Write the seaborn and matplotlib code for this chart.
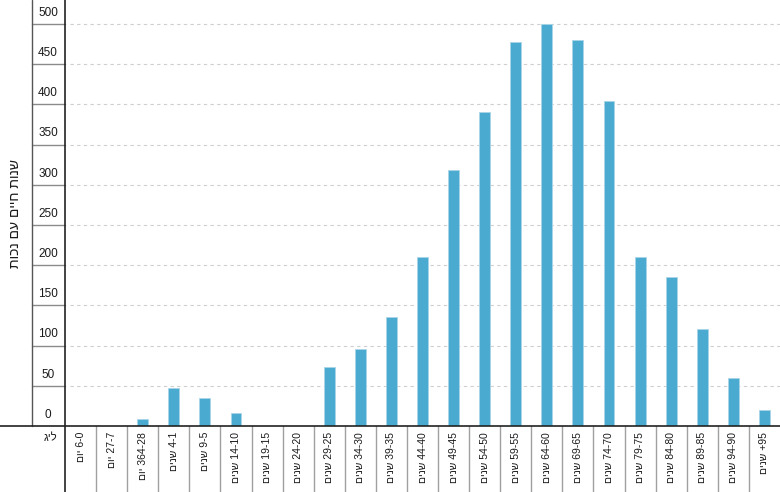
# coding: utf-8
"""
Histogramme des années de vie avec incapacité par tranche d'âge (libellés en hébreu)
"""
import matplotlib
matplotlib.use('Agg')
from matplotlib import pyplot as plt
from matplotlib.transforms import blended_transform_factory
from matplotlib.lines import Line2D
import pandas as pd
import seaborn as sns

# Données
AGE_RANGES = ['6-0', '27-7', '364-28', '4-1', '9-5', '14-10', '19-15', '24-20',
              '29-25', '34-30', '39-35', '44-40', '49-45', '54-50', '59-55',
              '64-60', '69-65', '74-70', '79-75', '84-80', '89-85', '94-90', '+95']
UNITS = ['יום'] * 3 + ['שנים'] * 20
VALUES = [0, 0, 9, 47, 35, 16, 0, 0, 73, 96, 136, 210, 318, 391, 478,
          500, 480, 404, 210, 185, 121, 60, 20]
Y_TICKS = list(range(0, 501, 50))
Y_LABEL = 'שנות חיים עם נכות'
X_HEADER = 'גיל'

BAR_COLOR = '#4aaad0'
W, H = 780, 492


def rtl(s):
    # matplotlib ne gère pas le bidi : on inverse l'ordre des caractères hébreux
    return s[::-1]


sns.set_style('white')
plt.rcParams['font.family'] = ['Liberation Sans', 'DejaVu Sans']

df = pd.DataFrame({'age': AGE_RANGES, 'value': VALUES})
df['label'] = [rtl(u) + ' ' + a for a, u in zip(AGE_RANGES, UNITS)]

fig = plt.figure(figsize=(W / 100, H / 100), dpi=100)
ax = fig.add_axes([65 / W, 66 / H, (W - 65) / W, 426 / H])

sns.barplot(data=df, x='label', y='value', color=BAR_COLOR, width=0.35,
            edgecolor='#a8d6e8', linewidth=0.6, saturation=1, ax=ax, zorder=3)
ax.set_xlim(-0.5, len(AGE_RANGES) - 0.5)
ax.set_ylim(0, 530)
ax.set_xticks([])
ax.set_yticks([])
ax.set_xlabel('')
ax.set_ylabel('')
for side in ['top', 'right', 'left', 'bottom']:
    ax.spines[side].set_visible(False)

# Grille pointillée
for v in Y_TICKS[1:]:
    ax.axhline(v, xmin=5 / (W - 65), xmax=1, color='#cfcfcf', lw=0.8,
               dashes=(3, 3), zorder=1)

# Colonne de gauche (graduations dans des cases)
tr = blended_transform_factory(fig.transFigure, ax.transData)
for v in Y_TICKS:
    if v > 0:
        ax.plot([32 / W, 65 / W], [v, v], color='#8a8a8a', lw=1,
                transform=tr, clip_on=False)
    ax.text(48 / W, v + 14, str(v), transform=tr, ha='center', va='center',
            fontsize=8.5, color='#1a1a1a')

fig.add_artist(Line2D([32 / W, 32 / W], [66 / H, 1], color='#555555', lw=1))
fig.add_artist(Line2D([65 / W, 65 / W], [0, 1], color='#222222', lw=1.2))
fig.add_artist(Line2D([0, 1], [66 / H, 66 / H], color='#222222', lw=1.2))

# Cases des libellés d'âge
trx = blended_transform_factory(ax.transData, ax.transAxes)
for i in range(1, len(AGE_RANGES)):
    ax.plot([i - 0.5, i - 0.5], [0, -66 / 426], color='#a0a0a0', lw=1,
            transform=trx, clip_on=False)
for i, lab in enumerate(df['label']):
    ax.text(i, -6 / 426, lab, transform=trx, rotation=90, ha='center',
            va='top', fontsize=7.5, color='#1a1a1a')

fig.text(50 / W, 1 - 438 / H, X_HEADER, ha='center', va='center',
         fontsize=8, color='#1a1a1a')
fig.text(15 / W, 1 - 214 / H, rtl(Y_LABEL), rotation=90, ha='center',
         va='center', fontsize=10, color='#1a1a1a')

fig.savefig('out.png', dpi=100)
plt.close()
